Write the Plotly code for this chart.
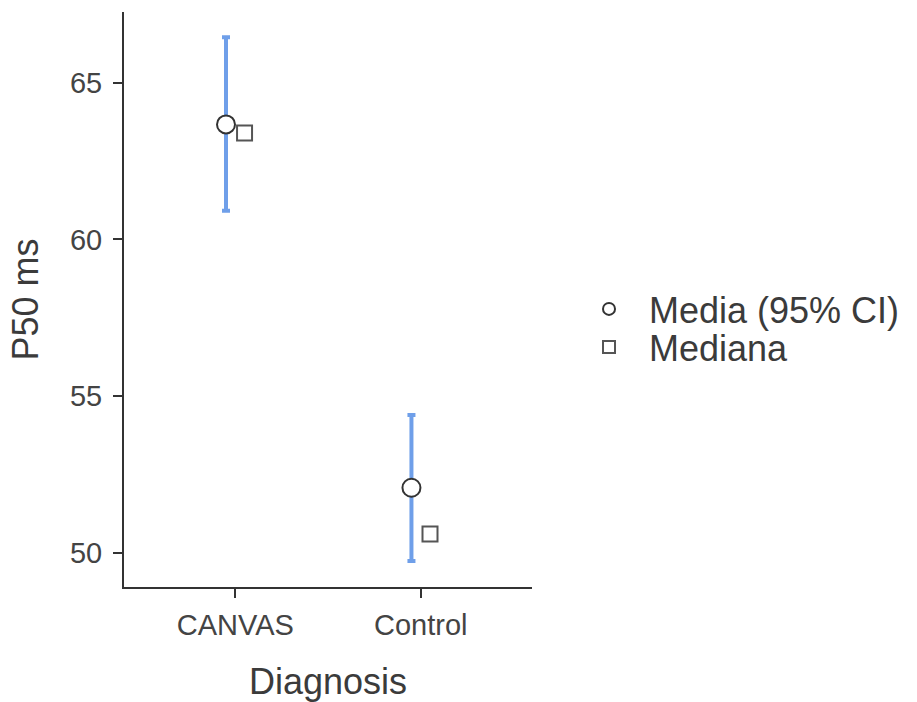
import plotly.graph_objects as go

# Group labels and summary statistics of P50 (ms)
categories = ["CANVAS", "Control"]
mean_vals = [63.67, 52.07]
ci_upper = [66.45, 54.39]
ci_lower = [60.91, 49.73]
median_vals = [63.40, 50.59]

# horizontal dodge between the mean and median markers
dodge = 0.05
pos = list(range(1, len(categories) + 1))

err_plus = [u - m for u, m in zip(ci_upper, mean_vals)]
err_minus = [m - l for m, l in zip(mean_vals, ci_lower)]

FONT = "Liberation Sans, Arial, Helvetica, sans-serif"
TEXT = "#3b3b3b"
AXIS = "#333333"

fig = go.Figure()

fig.add_trace(go.Scatter(
    x=[p - dodge for p in pos],
    y=mean_vals,
    mode="markers",
    name="Media (95% CI)",
    legend="legend",
    marker=dict(symbol="circle", size=18, color="white",
                line=dict(color="#333333", width=2)),
    error_y=dict(type="data", symmetric=False, array=err_plus,
                 arrayminus=err_minus, color="#6f9fe9",
                 thickness=4, width=4),
))

fig.add_trace(go.Scatter(
    x=[p + dodge for p in pos],
    y=median_vals,
    mode="markers",
    name="Mediana",
    legend="legend2",
    marker=dict(symbol="square", size=15, color="white",
                line=dict(color="#555555", width=2)),
))

legend_common = dict(
    xanchor="left", yanchor="middle",
    font=dict(size=36, color=TEXT, family=FONT),
    itemsizing="constant", itemwidth=70, bgcolor="rgba(0,0,0,0)",
)

fig.update_layout(
    width=917, height=702,
    margin=dict(l=124, r=385, t=12, b=115),
    paper_bgcolor="white", plot_bgcolor="white",
    font=dict(family=FONT, color=TEXT),
    showlegend=True,
    legend=dict(x=1.0907, y=0.4835, **legend_common),
    legend2=dict(x=1.0907, y=0.4174, **legend_common),
    xaxis=dict(
        range=[0.4, 2.6], tickvals=pos, ticktext=categories,
        showgrid=False, zeroline=False, automargin=False,
        showline=True, linecolor=AXIS, linewidth=2,
        ticks="outside", ticklen=9, tickwidth=2, tickcolor=AXIS,
        tickfont=dict(size=29, color="#444444"), ticklabelstandoff=2,
        title=dict(text="Diagnosis", font=dict(size=36, color=TEXT), standoff=30),
    ),
    yaxis=dict(
        range=[48.90, 67.26], tickvals=[50, 55, 60, 65],
        showgrid=False, zeroline=False, automargin=False,
        showline=True, linecolor=AXIS, linewidth=2,
        ticks="outside", ticklen=9, tickwidth=2, tickcolor=AXIS,
        tickfont=dict(size=29, color="#444444"), ticklabelstandoff=5,
        title=dict(text="P50 ms", font=dict(size=36, color=TEXT), standoff=20),
    ),
)

fig.write_html("out.html")
